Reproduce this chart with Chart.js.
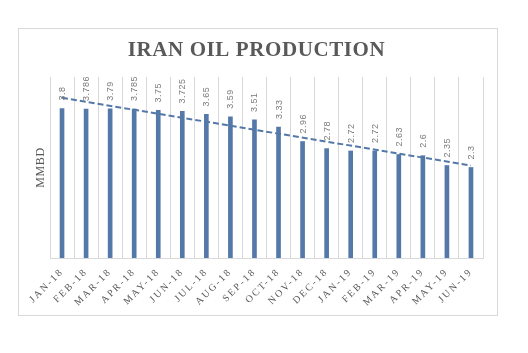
<!DOCTYPE html>
<html>
<head>
<meta charset="utf-8">
<script src="https://cdn.jsdelivr.net/npm/chart.js@4"></script>
<style>
  html, body { margin: 0; padding: 0; background: #fff; }
  #wrap { width: 528px; height: 353px; }
</style>
</head>
<body>
<div id="wrap"><canvas id="Chart1" width="528" height="353"></canvas></div>
<script>
var months = ['JAN-18', 'FEB-18', 'MAR-18', 'APR-18', 'MAY-18', 'JUN-18', 'JUL-18', 'AUG-18', 'SEP-18',
  'OCT-18', 'NOV-18', 'DEC-18', 'JAN-19', 'FEB-19', 'MAR-19', 'APR-19', 'MAY-19', 'JUN-19'];
var production = [3.8, 3.786, 3.79, 3.785, 3.75, 3.725, 3.65, 3.59, 3.51,
  3.33, 2.96, 2.78, 2.72, 2.72, 2.63, 2.6, 2.35, 2.3];
// trend line ends
var trend = [4.07, null, null, null, null, null, null, null, null,
  null, null, null, null, null, null, null, null, 2.35];

var barColor = '#5478a8';

// frame + spaced lettering like the original
var framePlugin = {
  id: 'frame',
  beforeDraw: function(chart) {
    var ctx = chart.ctx;
    ctx.save();
    ctx.fillStyle = '#fff';
    ctx.fillRect(0, 0, chart.width, chart.height);
    ctx.strokeStyle = '#d9d9d9';
    ctx.lineWidth = 1;
    ctx.strokeRect(18.5, 28.5, 479, 287);
    ctx.restore();
    ctx.letterSpacing = '0.6px';
  },
  afterDraw: function(chart) {
    chart.ctx.letterSpacing = '0px';
  }
};

// value labels above the bars, rotated
var labelPlugin = {
  id: 'barLabels',
  afterDatasetsDraw: function(chart) {
    var ctx = chart.ctx;
    var meta = chart.getDatasetMeta(0);
    ctx.save();
    ctx.letterSpacing = '0.5px';
    ctx.font = '9px "Liberation Sans"';
    ctx.fillStyle = '#7a7a7a';
    ctx.textAlign = 'left';
    ctx.textBaseline = 'middle';
    meta.data.forEach(function(bar, i) {
      ctx.save();
      ctx.translate(bar.x + 0.5, bar.y - 8);
      ctx.rotate(-Math.PI / 2);
      ctx.fillText(String(production[i]), 0, 0);
      ctx.restore();
    });
    ctx.restore();
    // x tick labels are drawn after this (z: 1), wider spacing
    ctx.letterSpacing = '2px';
  }
};

var chart1 = new Chart('Chart1', {
  type: 'bar',
  data: {
    labels: months,
    datasets: [{
      data: production,
      backgroundColor: barColor,
      borderWidth: 0,
      barThickness: 4,
      order: 2
    }, {
      type: 'line',
      data: trend,
      spanGaps: true,
      borderColor: barColor,
      borderWidth: 2,
      borderDash: [6, 3],
      pointRadius: 0,
      fill: false,
      order: 1
    }]
  },
  options: {
    responsive: false,
    animation: false,
    layout: { padding: { left: 30, right: 45, top: 0, bottom: 0 } },
    plugins: {
      legend: { display: false },
      tooltip: { enabled: false },
      title: {
        display: true,
        text: 'IRAN OIL PRODUCTION',
        color: '#595959',
        font: { family: '"Liberation Serif"', size: 21, weight: 'bold', lineHeight: 1.2 },
        padding: { top: 38, bottom: 13.8 }
      }
    },
    scales: {
      x: {
        grid: { color: '#d9d9d9', drawTicks: false },
        border: { color: '#d9d9d9' },
        ticks: {
          z: 1,
          color: '#595959',
          font: { family: '"Liberation Serif"', size: 10 },
          minRotation: 45,
          maxRotation: 45,
          autoSkip: false,
          padding: 8
        },
        afterFit: function(scale) { scale.height = 95; }
      },
      y: {
        min: 0,
        max: 4.6,
        grid: { display: false },
        border: { display: false },
        ticks: { display: false },
        title: {
          display: true,
          text: 'MMBD',
          color: '#595959',
          font: { family: '"Liberation Serif"', size: 12 },
          padding: { top: 4, bottom: 0 }
        },
        afterFit: function(scale) { scale.width = 20; }
      }
    }
  },
  plugins: [framePlugin, labelPlugin]
});
</script>
</body>
</html>
